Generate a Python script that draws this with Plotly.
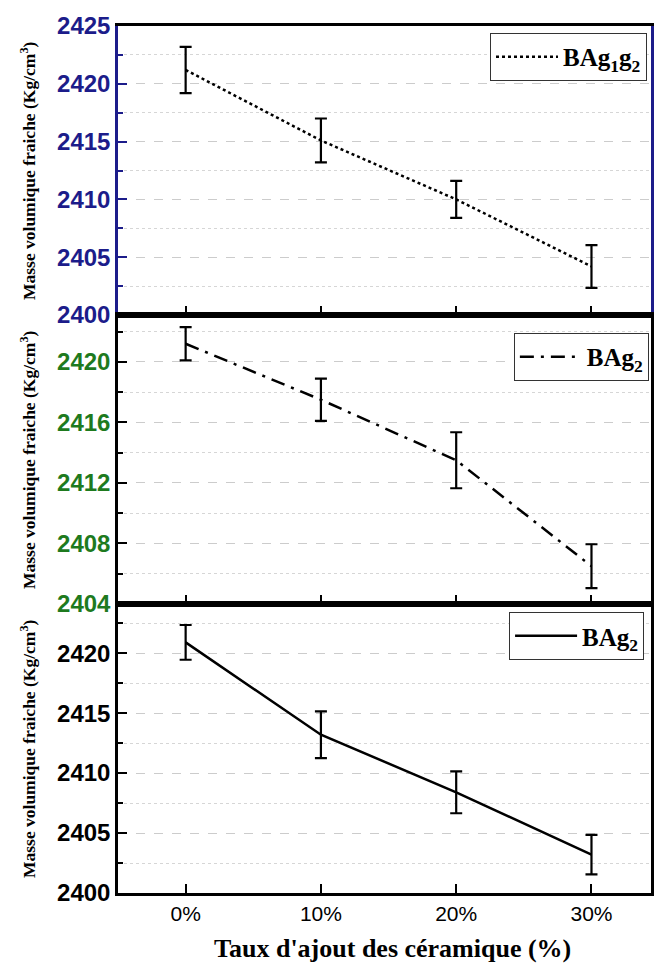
import plotly.graph_objects as go

categories = ["0%", "10%", "20%", "30%"]
x_idx = [0, 1, 2, 3]

# Panel 1 (top) : BAg1g2
top_vals = [2421.2, 2415.1, 2410.0, 2404.2]
top_err = [2.0, 1.9, 1.6, 1.85]
# Panel 2 (middle) : BAg2 (dash-dot)
mid_vals = [2421.2, 2417.5, 2413.5, 2406.5]
mid_err = [1.1, 1.4, 1.85, 1.45]
# Panel 3 (bottom) : BAg2 (solid)
bot_vals = [2420.9, 2413.2, 2408.4, 2403.2]
bot_err = [1.45, 1.95, 1.75, 1.65]

NAVY = "#1c1c8a"
GREEN = "#1e7a1e"
BLACK = "#000000"

fig = go.Figure()

def add(vals, err, name, dash, xa, ya, legend):
    fig.add_trace(go.Scatter(
        x=x_idx, y=vals, mode="lines", name=name,
        line=dict(color="black", width=2.5, dash=dash),
        error_y=dict(type="data", array=err, visible=True, color="black",
                     thickness=2.2, width=6),
        xaxis=xa, yaxis=ya, legend=legend, showlegend=True,
    ))

add(top_vals, top_err, "BAg<sub>1</sub>g<sub>2</sub>", "dot", "x", "y", "legend")
add(mid_vals, mid_err, "BAg<sub>2</sub>", "14px,7px,3px,7px", "x2", "y2", "legend2")
add(bot_vals, bot_err, "BAg<sub>2</sub>", "solid", "x3", "y3", "legend3")

H = 867.0
domains = [[578 / H, 1.0], [289 / H, 578 / H], [0.0, 289 / H]]

def xaxis(show_labels, anchor):
    return dict(
        range=[-0.5, 3.44], tickvals=x_idx, ticktext=categories,
        showticklabels=show_labels, ticks="inside", ticklen=9, tickwidth=2.2,
        tickcolor="black", showline=True, linecolor="black", linewidth=2.5,
        mirror=True, showgrid=False, zeroline=False, anchor=anchor,
        tickfont=dict(family="Liberation Sans, Arial", size=21, color="black"),
    )

def yaxis(rng, dtick, minor_dtick, color, dom, anchor, linecolor):
    return dict(
        range=rng, dtick=dtick, tick0=2400, domain=dom, anchor=anchor,
        ticks="inside", ticklen=9, tickwidth=2.2, tickcolor=linecolor,
        showline=True, linecolor=linecolor, linewidth=2.5, mirror=True,
        showgrid=True, gridcolor="#cccccc", gridwidth=1, griddash="dash",
        zeroline=False,
        tickfont=dict(family="Liberation Sans, Arial", size=24, color=color,
                      weight="bold"),
        minor=dict(dtick=minor_dtick, tick0=2400, ticks="inside", ticklen=5,
                   tickwidth=2, tickcolor=linecolor, showgrid=True,
                   gridcolor="#d6d6d6", gridwidth=1, griddash="dot"),
    )

legend_common = dict(
    bgcolor="white", bordercolor="#333333", borderwidth=1,
    font=dict(family="Liberation Serif, Times New Roman", size=25,
              color="black", weight="bold"),
    xanchor="right", yanchor="top", itemwidth=62,
)

fig.update_layout(
    width=654, height=970,
    margin=dict(l=118, r=0, t=26, b=77),
    paper_bgcolor="white", plot_bgcolor="white",
    xaxis=xaxis(False, "y"),
    xaxis2=xaxis(False, "y2"),
    xaxis3=xaxis(True, "y3"),
    yaxis=yaxis([2400, 2425], 5, 2.5, NAVY, domains[0], "x", NAVY),
    yaxis2=yaxis([2404, 2423.1], 4, 2, GREEN, domains[1], "x2", BLACK),
    yaxis3=yaxis([2400, 2424.1], 5, 2.5, BLACK, domains[2], "x3", BLACK),
    legend=dict(x=0.9925, y=0.992, **legend_common),
    legend2=dict(x=0.996, y=0.646, **legend_common),
    legend3=dict(x=0.987, y=0.324, **legend_common),
    showlegend=True,
)

ytitle = "Masse volumique fraiche (Kg/cm<sup>3</sup>)"
for dom in domains:
    fig.add_annotation(
        text=ytitle, textangle=-90, xref="paper", yref="paper",
        x=(27 - 118) / 536.0, y=(dom[0] + dom[1]) / 2,
        xanchor="center", yanchor="middle", showarrow=False,
        font=dict(family="Liberation Serif, Times New Roman", size=17.5,
                  color="black", weight="bold"),
    )

fig.add_annotation(
    text="Taux d'ajout des céramique (%)", xref="paper", yref="paper",
    x=(394 - 118) / 536.0, y=-(948 - 893) / H, xanchor="center",
    yanchor="middle", showarrow=False,
    font=dict(family="Liberation Serif, Times New Roman", size=26,
              color="black", weight="bold"),
)

fig.write_html("out.html")
